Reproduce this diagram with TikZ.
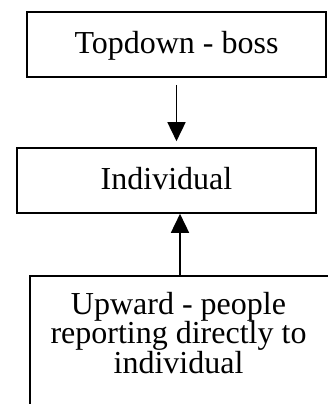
\documentclass[tikz,border=0pt]{standalone}
\usepackage{fontspec}
\setmainfont{Liberation Serif}
\usetikzlibrary{positioning}
\usetikzlibrary{arrows.meta}
\tikzset{box/.style={draw,line width=1.6pt,minimum width=299pt,minimum height=65pt,
                     inner sep=0pt,text height=22pt,text depth=4pt},
         boxtext/.style={font=\fontsize{32}{29.5}\selectfont},
         link/.style={line width=1.6pt,-{Triangle[length=19pt,width=18pt]}},
         }

\begin{document}
\begin{tikzpicture}[x=1pt,y=-1pt,boxtext]
		\useasboundingbox (0,0) rectangle (327,404);
		\node[box] (boss) at (176.5,44.5) {Topdown - boss};
		\node[box] (ind) at (166.5,180.5) {Individual};
		% lower box runs past the page edge
		\node[box,anchor=north,minimum width=300pt,minimum height=160pt,
		      text height=,text depth=] (up) at (180,275) {};
		\node[align=center,inner sep=0pt,below=17pt of up.north,xshift=-1.5pt] (uptext)
		     {Upward - people\\reporting directly to\\individual};
		\draw[link,shorten <=7pt,shorten >=6pt] (boss.south) -- (boss.south |- ind.north);
		\draw[link] (up.north) -- (up.north |- ind.south);
\end{tikzpicture}
\end{document}
